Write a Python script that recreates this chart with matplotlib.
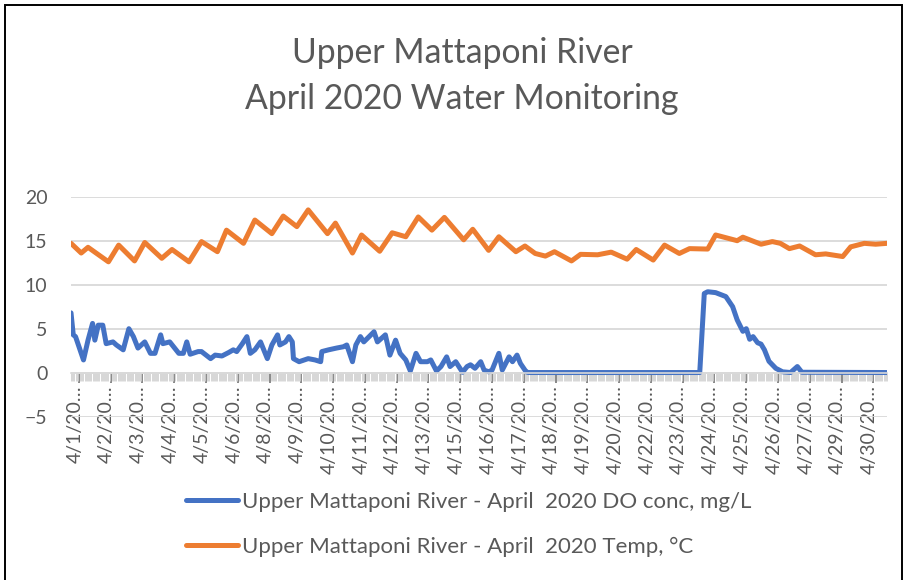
import matplotlib
matplotlib.use("Agg")
import matplotlib.pyplot as plt
from matplotlib.patches import Rectangle
from matplotlib.transforms import ScaledTranslation
from matplotlib.ticker import FixedLocator

plt.rcParams['font.family'] = ['Lato', 'DejaVu Sans']

# ---------------- data ----------------
title_lines = ["Upper Mattaponi River", "April 2020 Water Monitoring"]
series_names = ["Upper Mattaponi River - April  2020 DO conc, mg/L",
                "Upper Mattaponi River - April  2020 Temp, \u00b0C"]

n_hours = 720          # hourly categories, April 1-30
label_step = 28        # one label every 28 categories
tick_labels = ["4/1/20\u2026", "4/2/20\u2026", "4/3/20\u2026", "4/4/20\u2026", "4/5/20\u2026",
               "4/6/20\u2026", "4/8/20\u2026", "4/9/20\u2026", "4/10/20\u2026", "4/11/20\u2026",
               "4/12/20\u2026", "4/13/20\u2026", "4/15/20\u2026", "4/16/20\u2026", "4/17/20\u2026",
               "4/18/20\u2026", "4/19/20\u2026", "4/20/20\u2026", "4/22/20\u2026", "4/23/20\u2026",
               "4/24/20\u2026", "4/25/20\u2026", "4/26/20\u2026", "4/27/20\u2026", "4/29/20\u2026",
               "4/30/20\u2026"]
y_ticks = [-5, 0, 5, 10, 15, 20]

# hour index (from start of record) and reading
do_hours = [0, 2, 4, 11, 15, 19, 21, 24, 28, 31, 37, 40, 46, 51, 55, 59, 65, 70, 74, 79,
            81, 87, 95, 99, 102, 105, 112, 115, 123, 127, 133, 139, 143, 146, 151, 155, 158, 162, 167, 173,
            177, 182, 184, 189, 192, 195, 196, 201, 209, 215, 220, 221, 227, 234, 240, 243, 248, 251, 255, 258,
            267, 270, 277, 281, 286, 290, 295, 299, 304, 308, 314, 317, 322, 326, 331, 334, 339, 345, 349, 352,
            356, 361, 364, 368, 371, 377, 380, 386, 389, 393, 396, 401, 403, 554, 558, 561, 568, 577, 583, 587,
            592, 595, 598, 601, 605, 608, 611, 615, 621, 627, 634, 640, 644, 719]
do_values = [6.8, 4.3, 4.1, 1.45, 3.7, 5.6, 3.7, 5.4, 5.4, 3.3, 3.5, 3.15, 2.6, 5.0, 4.1, 2.8, 3.5, 2.2, 2.2, 4.3,
             3.3, 3.5, 2.2, 2.2, 3.5, 2.1, 2.4, 2.4, 1.6, 2.0, 1.9, 2.3, 2.6, 2.4, 3.3, 4.1, 2.2, 2.6, 3.5, 1.6,
             3.15, 4.3, 3.15, 3.5, 4.1, 3.5, 1.6, 1.25, 1.6, 1.45, 1.25, 2.4, 2.6, 2.8, 2.95, 3.15, 1.25, 3.15, 4.1, 3.5,
             4.65, 3.5, 4.3, 2.0, 3.7, 2.2, 1.45, 0.2, 2.2, 1.25, 1.25, 1.45, 0.2, 0.7, 1.8, 0.7, 1.25, 0.05, 0.7, 0.9,
             0.5, 1.25, 0.3, 0.1, 0.3, 2.2, 0.3, 1.8, 1.25, 2.0, 1.05, 0.1, 0.02, 0.02, 9.0, 9.2, 9.1, 8.65, 7.5, 6.0,
             4.7, 5.0, 3.8, 4.1, 3.4, 3.25, 2.6, 1.3, 0.5, 0.1, 0.02, 0.7, 0.05, 0.02]

temp_hours = [0, 9, 15, 33, 42, 56, 65, 80, 89, 104, 115, 129, 137, 152, 162, 177, 187, 199, 209, 226,
              233, 248, 256, 272, 283, 295, 306, 318, 329, 346, 354, 368, 377, 392, 400, 409, 418, 426, 441, 449,
              464, 476, 490, 498, 513, 523, 536, 545, 561, 568, 587, 592, 608, 618, 625, 633, 642, 656, 665, 680,
              687, 699, 709, 719]
temp_values = [14.7, 13.6, 14.25, 12.6, 14.5, 12.7, 14.8, 13.0, 14.0, 12.6, 14.9, 13.75, 16.2, 14.7, 17.35, 15.8, 17.8, 16.6, 18.5, 15.8,
               17.0, 13.6, 15.65, 13.8, 15.9, 15.45, 17.7, 16.2, 17.65, 15.1, 16.3, 13.9, 15.45, 13.75, 14.4, 13.55, 13.25, 13.75, 12.7, 13.45,
               13.4, 13.7, 12.9, 14.0, 12.8, 14.5, 13.55, 14.1, 14.05, 15.65, 15.0, 15.4, 14.6, 14.9, 14.7, 14.1, 14.4, 13.4, 13.5, 13.2,
               14.3, 14.7, 14.6, 14.7]

# ---------------- style ----------------
W, H = 905, 580
BLUE = '#4472C4'
ORANGE = '#ED7D31'
GREY_TXT = '#595959'
GRID = '#D9D9D9'

fig = plt.figure(figsize=(W / 100, H / 100), dpi=100)
fig.patch.set_facecolor('white')

# outer chart border (left, top, right visible)
fig.add_artist(Rectangle((5 / W, -0.2), (902 - 5) / W, 1.2 - 5 / H, transform=fig.transFigure,
                         fill=False, edgecolor='black', linewidth=1.4))

ax = fig.add_axes([71 / W, 1 - 416.7 / H, (887 - 71) / W, (416.7 - 196.7) / H])
ax.set_xlim(0, n_hours - 1)
ax.set_ylim(-5, 20)

for s in ['top', 'right', 'left']:
    ax.spines[s].set_visible(False)
ax.spines['bottom'].set_position(('data', 0))
ax.spines['bottom'].set_color(GRID)
ax.spines['bottom'].set_linewidth(1.2)

ax.set_yticks(y_ticks)
ax.grid(axis='y', color=GRID, linewidth=1.3)
ax.set_axisbelow(True)
ax.tick_params(axis='y', length=0, pad=17, labelsize=14, labelcolor=GREY_TXT)

major_pos = [label_step * k + 7 for k in range(len(tick_labels))]
ax.xaxis.set_major_locator(FixedLocator(major_pos))
ax.set_xticklabels(tick_labels)
ax.xaxis.set_minor_locator(FixedLocator(list(range(n_hours))))
ax.tick_params(axis='x', which='minor', length=6, width=0.6, color='#D0D0D0', direction='out')
ax.tick_params(axis='x', which='major', length=7, width=1.3, color='#7F7F7F', direction='out',
               pad=2, labelsize=14, labelcolor=GREY_TXT, labelrotation=90)
off = ScaledTranslation(-4 / 100, 0, fig.dpi_scale_trans)
for lab in ax.get_xticklabels():
    lab.set_transform(lab.get_transform() + off)

l1, = ax.plot(do_hours, do_values, color=BLUE, linewidth=3.6,
              solid_joinstyle='round', solid_capstyle='round')
l2, = ax.plot(temp_hours, temp_values, color=ORANGE, linewidth=3.6,
              solid_joinstyle='round', solid_capstyle='round')

fig.text(462 / W, 1 - 53 / H, title_lines[0], ha='center', va='center',
         fontsize=24.3, color=GREY_TXT)
fig.text(462 / W, 1 - 99 / H, title_lines[1], ha='center', va='center',
         fontsize=24.3, color=GREY_TXT)

fig.legend([l1, l2], series_names, loc='upper left', bbox_to_anchor=(186 / W, 1 - 492 / H),
           frameon=False, borderpad=0, borderaxespad=0, handlelength=2.35, handletextpad=0.17,
           labelspacing=1.1, fontsize=16, labelcolor=GREY_TXT)

fig.savefig('out.png', dpi=100, facecolor='white')
